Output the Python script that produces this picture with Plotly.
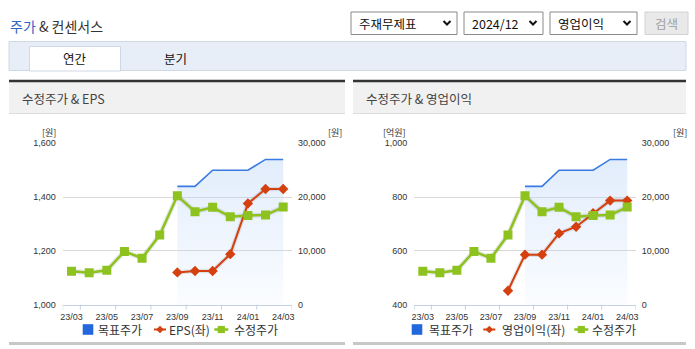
import plotly.graph_objects as go

# ---- data -------------------------------------------------------------
months = ["23/03", "23/04", "23/05", "23/06", "23/07", "23/08", "23/09",
          "23/10", "23/11", "23/12", "24/01", "24/02", "24/03"]
tick_months = months[::2]

# adjusted close price (원, right axis)
price = [6200, 5950, 6400, 9900, 8650, 12950, 20250,
         17300, 18100, 16350, 16600, 16650, 18150]
# consensus target price (원, right axis)
target = [None, None, None, None, None, None, 22000,
          22000, 25000, 25000, 25000, 27000, 27000]
# EPS (원, left axis of the first chart)
eps = [None, None, None, None, None, None, 1120,
       1125, 1125, 1188, 1376, 1430, 1430]
# operating income (억원, left axis of the second chart)
op_income = [None, None, None, None, None, 452, 586,
             586, 665, 690, 740, 787, 787]

eps_ticks = [1000, 1200, 1400, 1600]
op_ticks = [400, 600, 800, 1000]
price_ticks = [0, 10000, 20000, 30000]
price_range = [0, 30000]

# ---- styling ----------------------------------------------------------
W, H = 695, 349
GREEN = "#8dc21f"
RED = "#d4400f"
BLUE = "#3a7be2"
BLUE_KEY = "#2268dc"
AXIS = "#c3d1e2"
GRID = "#d8d8d8"
KR = "Noto Sans CJK KR"
NUM = "Liberation Sans"
TICKFONT = dict(family=NUM, size=9, color="#333")


def fx(x):
    return x / W


def fy(y):
    return 1 - y / H


PLOT_TOP, PLOT_BOT = 143.3, 304.7
panels = [
    dict(x0=62.7, x1=292.0, xa="x", ax_ids=("", "2", "3"),
         left_range=[1000, 1600], left_ticks=eps_ticks,
         left_vals=eps, left_name="EPS(좌)", title="수정주가 & EPS",
         unit_l="[원]", unit_l_x=48.5, unit_r_x=335,
         box=(9, 345), key=dict(sq=82.7, txt1=97.3, red=154, txt2=167.7,
                                grn=214.3, txt3=233)),
    dict(x0=414.3, x1=635.7, xa="x2", ax_ids=("4", "5", "6"),
         left_range=[400, 1000], left_ticks=op_ticks,
         left_vals=op_income, left_name="영업이익(좌)",
         title="수정주가 & 영업이익",
         unit_l="[억원]", unit_l_x=394, unit_r_x=679.5,
         box=(353, 686), key=dict(sq=411.7, txt1=428.3, red=483.3,
                                  txt2=501, grn=574.3, txt3=591)),
]

fig = go.Figure()
shapes = []
annotations = []

for i, p in enumerate(panels):
    xa = p["xa"]
    base_id, left_id, top_id = p["ax_ids"]
    y_base, y_left, y_top = "y" + base_id, "y" + left_id, "y" + top_id

    # target price with a soft vertical gradient down to the axis floor
    fig.add_trace(go.Scatter(
        x=months, y=target, xaxis=xa, yaxis=y_base, mode="lines",
        line=dict(color=BLUE, width=1.6), fill="tozeroy",
        fillgradient=dict(type="vertical", start=0, stop=27000,
                          colorscale=[[0, "rgba(190,215,248,0.07)"],
                                      [1, "rgba(190,215,248,0.45)"]]),
        showlegend=False, hoverinfo="skip"))

    # left-axis series (EPS / operating income)
    fig.add_trace(go.Scatter(
        x=months, y=p["left_vals"], xaxis=xa, yaxis=y_left, mode="lines",
        line=dict(color="rgba(0,0,0,0.09)", width=4.5),
        showlegend=False, hoverinfo="skip"))
    fig.add_trace(go.Scatter(
        x=months, y=p["left_vals"], xaxis=xa, yaxis=y_left,
        mode="lines+markers", name=p["left_name"],
        line=dict(color=RED, width=2),
        marker=dict(symbol="diamond", size=8, color=RED),
        showlegend=False))

    # adjusted price, kept on top of the left-axis series
    fig.add_trace(go.Scatter(
        x=months, y=price, xaxis=xa, yaxis=y_top, mode="lines",
        line=dict(color="rgba(0,0,0,0.09)", width=5),
        showlegend=False, hoverinfo="skip"))
    fig.add_trace(go.Scatter(
        x=months, y=price, xaxis=xa, yaxis=y_top, mode="lines+markers",
        name="수정주가", line=dict(color=GREEN, width=2.5),
        marker=dict(symbol="square", size=9, color=GREEN),
        showlegend=False))

    dom_x = [fx(p["x0"]), fx(p["x1"])]
    dom_y = [fy(PLOT_BOT), fy(PLOT_TOP)]
    xkey = "xaxis" + ("" if i == 0 else "2")

    fig.layout[xkey] = dict(
        domain=dom_x, anchor=y_base, type="category",
        range=[-0.5, len(months) - 0.5],
        tickvals=tick_months, ticktext=tick_months,
        ticks="", showline=True, linecolor=AXIS, linewidth=1,
        showgrid=False, zeroline=False, ticklabelstandoff=3,
        tickfont=TICKFONT, fixedrange=True, automargin=False)
    # price axis (right) carries the grid
    fig.layout["yaxis" + base_id] = dict(
        domain=dom_y, anchor=xa, side="right", range=price_range,
        tickvals=price_ticks, tickformat=",", showgrid=True,
        gridcolor=GRID, gridwidth=1, zeroline=False, ticks="",
        ticklabelstandoff=5, tickfont=TICKFONT, fixedrange=True,
        automargin=False)
    # left value axis
    fig.layout["yaxis" + left_id] = dict(
        overlaying=y_base, side="left", anchor=xa, range=p["left_range"],
        tickvals=p["left_ticks"], tickformat=",", showgrid=False,
        zeroline=False, ticks="", ticklabelstandoff=6,
        tickfont=TICKFONT, fixedrange=True, automargin=False)
    # hidden copy of the price axis so the price line sits on top
    fig.layout["yaxis" + top_id] = dict(
        overlaying=y_base, anchor=xa, range=price_range, visible=False,
        showgrid=False, zeroline=False, fixedrange=True)

    # x-axis tick marks on month boundaries
    for b in [-0.5] + [k + 0.5 for k in range(0, len(months), 2)]:
        shapes.append(dict(type="line", xref=xa, yref=y_base + " domain",
                           x0=b, x1=b, y0=0, y1=-5 / (PLOT_BOT - PLOT_TOP),
                           line=dict(color=AXIS, width=1)))

    # axis unit labels
    for ux, utext in [(p["unit_l_x"], p["unit_l"]), (p["unit_r_x"], "[원]")]:
        annotations.append(dict(x=fx(ux), y=fy(132.5), xref="paper",
                                yref="paper", text=utext, showarrow=False,
                                font=dict(family=KR, size=9, color="#333"),
                                xanchor="center", yanchor="middle",
                                borderpad=0))

    # panel frame: dark top rule, grey header band, bottom rule
    bx0, bx1 = p["box"]
    shapes.append(dict(type="rect", xref="paper", yref="paper",
                       x0=fx(bx0), x1=fx(bx1), y0=fy(113.5), y1=fy(82),
                       fillcolor="#f1f1f1", line=dict(width=0), layer="below"))
    shapes.append(dict(type="line", xref="paper", yref="paper",
                       x0=fx(bx0), x1=fx(bx1), y0=fy(113.5), y1=fy(113.5),
                       line=dict(color="#dddddd", width=1)))
    shapes.append(dict(type="line", xref="paper", yref="paper",
                       x0=fx(bx0), x1=fx(bx1), y0=fy(81), y1=fy(81),
                       line=dict(color="#333333", width=2.5)))
    shapes.append(dict(type="line", xref="paper", yref="paper",
                       x0=fx(bx0), x1=fx(bx1), y0=fy(343.5), y1=fy(343.5),
                       line=dict(color="#c8c8c8", width=3)))
    annotations.append(dict(x=fx(bx0 + 11), y=fy(98), xref="paper",
                            yref="paper", text=p["title"], showarrow=False,
                            font=dict(family=KR, size=12.5, color="#444"),
                            xanchor="left", yanchor="middle"))

    # legend keys
    k = p["key"]
    ky = 329.5
    shapes.append(dict(type="rect", xref="paper", yref="paper",
                       x0=fx(k["sq"]), x1=fx(k["sq"] + 10.6),
                       y0=fy(ky + 5.3), y1=fy(ky - 5.3),
                       fillcolor=BLUE_KEY, line=dict(width=0)))
    shapes.append(dict(type="line", xref="paper", yref="paper",
                       x0=fx(k["red"]), x1=fx(k["red"] + 12),
                       y0=fy(ky), y1=fy(ky), line=dict(color=RED, width=2)))
    cx = k["red"] + 6
    shapes.append(dict(type="path", xref="paper", yref="paper",
                       path=(f"M{fx(cx)},{fy(ky - 3.8)} L{fx(cx + 3.8)},{fy(ky)} "
                             f"L{fx(cx)},{fy(ky + 3.8)} L{fx(cx - 3.8)},{fy(ky)} Z"),
                       fillcolor=RED, line=dict(width=0)))
    shapes.append(dict(type="line", xref="paper", yref="paper",
                       x0=fx(k["grn"]), x1=fx(k["grn"] + 14),
                       y0=fy(ky), y1=fy(ky), line=dict(color=GREEN, width=2.5)))
    gx = k["grn"] + 7
    shapes.append(dict(type="rect", xref="paper", yref="paper",
                       x0=fx(gx - 3.6), x1=fx(gx + 3.6),
                       y0=fy(ky + 3.6), y1=fy(ky - 3.6),
                       fillcolor=GREEN, line=dict(width=0)))
    for tx, label in [(k["txt1"], "목표주가"), (k["txt2"], p["left_name"]),
                      (k["txt3"], "수정주가")]:
        annotations.append(dict(x=fx(tx), y=fy(ky), xref="paper",
                                yref="paper", text=label, showarrow=False,
                                font=dict(family=KR, size=12, color="#333"),
                                xanchor="left", yanchor="middle",
                                borderpad=0))

# ---- page header ------------------------------------------------------
annotations.append(dict(x=fx(8), y=fy(26), xref="paper", yref="paper",
                        text='<span style="color:#2f64c8">주가</span> & 컨센서스',
                        showarrow=False, xanchor="left", yanchor="middle",
                        font=dict(family=KR, size=14, color="#333")))

# selectors
selects = [(351, 457, "주재무제표"), (464, 543, "2024/12"), (550, 637, "영업이익")]
for x0, x1, label in selects:
    shapes.append(dict(type="rect", xref="paper", yref="paper",
                       x0=fx(x0), x1=fx(x1), y0=fy(34.5), y1=fy(12),
                       fillcolor="#ffffff", line=dict(color="#8a8a8a", width=1)))
    annotations.append(dict(x=fx(x0 + 6), y=fy(23.5), xref="paper",
                            yref="paper", text=label, showarrow=False,
                            xanchor="left", yanchor="middle",
                            font=dict(family=KR, size=12.5, color="#111")))
    cx = x1 - 10
    shapes.append(dict(type="path", xref="paper", yref="paper",
                       path=(f"M{fx(cx - 3.5)},{fy(21)} L{fx(cx)},{fy(24.5)} "
                             f"L{fx(cx + 3.5)},{fy(21)}"),
                       line=dict(color="#111", width=2)))
shapes.append(dict(type="rect", xref="paper", yref="paper",
                   x0=fx(645), x1=fx(688), y0=fy(34.5), y1=fy(12),
                   fillcolor="#e9e9e9", line=dict(color="#d2d2d2", width=1)))
annotations.append(dict(x=fx(666.5), y=fy(23.5), xref="paper", yref="paper",
                        text="검색", showarrow=False, xanchor="center",
                        yanchor="middle",
                        font=dict(family=KR, size=12.5, color="#a0a0a0")))

# tab strip
shapes.append(dict(type="rect", xref="paper", yref="paper",
                   x0=fx(9), x1=fx(686), y0=fy(70.5), y1=fy(41.5),
                   fillcolor="#e8eef8", line=dict(color="#cfd8e6", width=1),
                   layer="below"))
shapes.append(dict(type="path", xref="paper", yref="paper",
                   path=(f"M{fx(29.5)},{fy(71)} L{fx(29.5)},{fy(46.5)} "
                         f"L{fx(120.5)},{fy(46.5)} L{fx(120.5)},{fy(71)} Z"),
                   fillcolor="#ffffff", line=dict(color="#cfd8e6", width=1),
                   layer="below"))
annotations.append(dict(x=fx(75), y=fy(58), xref="paper", yref="paper",
                        text="연간", showarrow=False, xanchor="center",
                        yanchor="middle",
                        font=dict(family=KR, size=12.5, color="#111")))
annotations.append(dict(x=fx(175), y=fy(58), xref="paper", yref="paper",
                        text="분기", showarrow=False, xanchor="center",
                        yanchor="middle",
                        font=dict(family=KR, size=12.5, color="#111")))

fig.update_layout(
    width=W, height=H, autosize=False,
    margin=dict(l=0, r=0, t=0, b=0, autoexpand=False),
    paper_bgcolor="#ffffff", plot_bgcolor="rgba(0,0,0,0)",
    showlegend=False, shapes=shapes, annotations=annotations,
    font=dict(family=KR),
)

fig.write_html("out.html", config={"displayModeBar": False})
